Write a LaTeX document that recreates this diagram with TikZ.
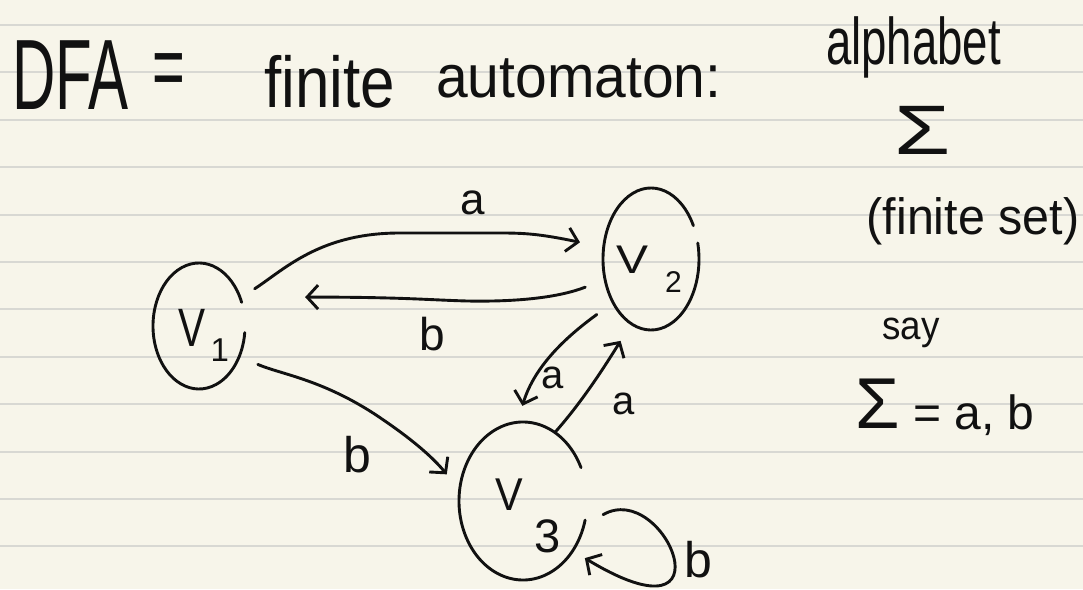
\documentclass[tikz,border=0pt]{standalone}
\usepackage{fontspec}
\setmainfont{Liberation Sans}
\usepackage{graphicx}
\usetikzlibrary{arrows.meta,shapes.geometric,calc}
\definecolor{paper}{HTML}{F7F5EA}
\definecolor{ruling}{HTML}{D8D8D3}
\definecolor{ink}{HTML}{111111}
\newcommand{\fs}[1]{\fontsize{#1}{#1}\selectfont}
% state label: #1 V size, #2 V xscale, #3 V left, #4 V drop, #5 number, #6 number size, #7 number left, #8 number drop
\newcommand{\slab}[8]{%
\makebox[0pt][l]{\hspace*{#3pt}\raisebox{-#4pt}[0pt][0pt]{\fs{#1}\scalebox{#2}[1]{V}}}%
\makebox[0pt][l]{\hspace*{#7pt}\raisebox{-#8pt}[0pt][0pt]{\fs{#6}#5}}}
\begin{document}
\begin{tikzpicture}[x=1pt,y=1pt,
  pen/.style={draw=ink, line width=2.9pt, line cap=round, line join=round},
  arr/.style={pen, -{Straight Barb[length=11pt,width=24pt]}},
  state/.style={ellipse, inner sep=0pt, text=ink},
  hw/.style={text=ink, inner sep=0pt},
]
\useasboundingbox (0,0) rectangle (1083,589);
\fill[paper] (0,0) rectangle (1083,589);
\foreach \k in {0,...,11} \draw[ruling, line width=2pt] (0,{564-47.4*\k}) -- (1083,{564-47.4*\k});

% heading texts
\node[hw, anchor=base west] (dfa) at (12,479) {\scalebox{0.6}[1]{\fs{100}DFA}};
\node[hw] (eq) at (169,513) {\scalebox{1}[1.6]{\fs{56}=}};
\node[hw, anchor=base west] (fin) at (264,481) {\scalebox{0.86}[1]{\fs{72}finite}};
\node[hw, anchor=base west] (aut) at (436,491) {\scalebox{0.95}[1]{\fs{60}automaton:}};
\node[hw, anchor=base west] (alph) at (826,524) {\scalebox{0.69}[1]{\fs{66}alphabet}};
\node[hw] (sig) at (923,459) {\scalebox{1.3}[1]{\fs{70}Σ}};
\node[hw] (fset) at (973,368) {\scalebox{0.95}[1]{\fs{51}(finite set)}};
\node[hw, anchor=base west] (say) at (882,249) {\scalebox{0.92}[1]{\fs{40}say}};
\node[hw, anchor=base west] (sdef) at (855,160) {\fs{72}Σ\fs{48} = a, b};

% states
\node[state, minimum width=92pt, minimum height=126pt] (v1) at (199,263)
  {\slab{54}{0.75}{-21}{20.8}{1}{33}{11.7}{36}};
\node[state, minimum width=96pt, minimum height=142pt] (v2) at (651,330)
  {\slab{40}{1.2}{-35}{15}{2}{30}{14}{34}};
\node[state, minimum width=128pt, minimum height=158pt] (v3) at (523,88)
  {\slab{46}{0.9}{-27.8}{9}{3}{47}{11}{51}};

\draw[pen] ($(v1.center)+(22:46 and 63)$) arc[start angle=22, end angle=354, x radius=46, y radius=63];
\draw[pen] ($(v2.center)+(28:48 and 71)$) arc[start angle=28, end angle=373, x radius=48, y radius=71];
\draw[pen] ($(v3.center)+(25:64 and 79)$) arc[start angle=25, end angle=346, x radius=64, y radius=79];

% transitions
\draw[arr, shorten <=17pt, shorten >=24pt] (v1.34) .. controls (285,320) and (320,356) .. (400,356)
  -- (500,356) .. controls (525,356) and (540,355) .. (v2.166);
\draw[arr, shorten <=21pt, shorten >=65pt] (v2.204) .. controls (560,292) and (520,287) .. (467,288)
  .. controls (430,289) and (400,292) .. (v1.35);
\draw[arr, shorten <=20pt, shorten >=20pt] (v1.323) .. controls (280,215) and (320,210) .. (373,176)
  .. controls (405,155) and (430,135) .. (v3.170);
\draw[arr, shorten <=20pt, shorten >=17pt] (v2.229) .. controls (570,255) and (535,225) .. (v3.94);
\draw[arr, shorten >=20pt] (v3.65) .. controls (580,185) and (600,215) .. (v2.253);
\draw[arr, shorten <=22pt, shorten >=14pt] (v3.-22) .. controls (665,110) and (735,-60) .. (v3.-45);

% transition labels
\node[hw, font={\fs{44}}] (la1) at (473,386) {a};
\node[hw, font={\fs{46}}] (lb2) at (432,255) {b};
\node[hw, font={\fs{50}}] (lb3) at (357,134) {b};
\node[hw, font={\fs{40}}] (la4) at (553,211) {a};
\node[hw, font={\fs{40}}] (la5) at (624,185) {a};
\node[hw, font={\fs{50}}] (lb6) at (698,29) {b};
\end{tikzpicture}
\end{document}
